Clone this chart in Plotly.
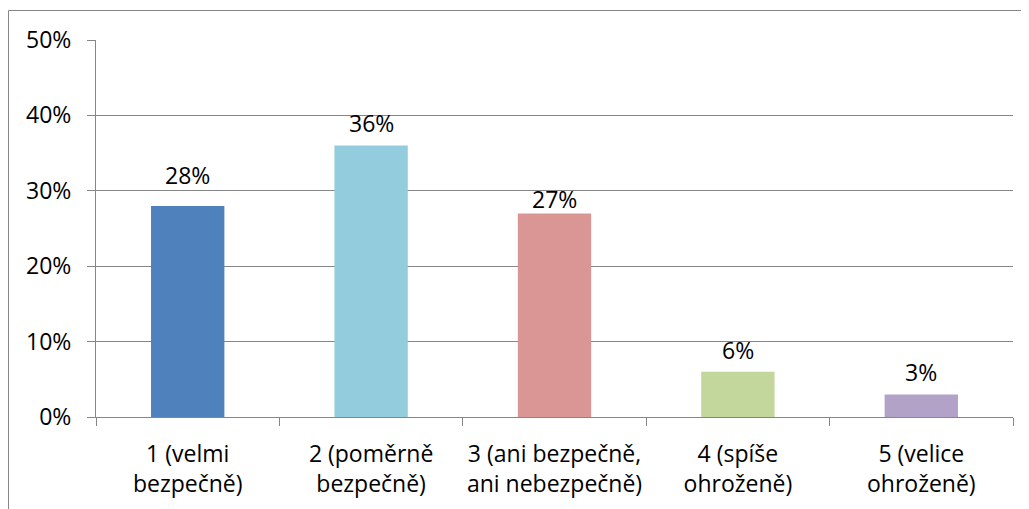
import plotly.graph_objects as go

categories = ["1 (velmi<br>bezpečně)", "2 (poměrně<br>bezpečně)", "3 (ani bezpečně,<br>ani nebezpečně)",
              "4 (spíše<br>ohroženě)", "5 (velice<br>ohroženě)"]
values = [0.28, 0.36, 0.27, 0.06, 0.03]
labels = ["28%", "36%", "27%", "6%", "3%"]
colors = ["#4F81BD", "#93CDDD", "#D99694", "#C3D69B", "#B3A2C7"]
y_ticks = [0, 0.1, 0.2, 0.3, 0.4, 0.5]
y_tick_text = ["0%", "10%", "20%", "30%", "40%", "50%"]

# styling: per-label vertical offsets (px) as placed in the original
label_shift = [12.5, 4.5, -4, 4, 4]

FONT = "Open Sans, Calibri, sans-serif"
FS = 23
GRID = "#868686"

fig = go.Figure(go.Bar(
    x=categories, y=values, marker_color=colors, marker_line_width=0,
))

# page body has an 8px margin, so figure coords = screen coords - 8
OFF = 8
W, H = 1021, 501
L, T = 96 - OFF, 40 - OFF
R = W - (1013 - OFF)
B = H - (417 - OFF)
pw, ph = W - L - R, H - T - B

annotations = [
    dict(x=c, y=v, xref="x", yref="y", text=t, showarrow=False,
         yanchor="bottom", yshift=s, font=dict(family=FONT, size=FS, color="#000000"))
    for c, v, t, s in zip(categories, values, labels, label_shift)
]

fig.update_layout(
    width=W, height=H,
    margin=dict(l=L, r=R, t=T, b=B, autoexpand=False),
    paper_bgcolor="white", plot_bgcolor="white",
    bargap=0.6, showlegend=False,
    font=dict(family=FONT, size=FS, color="#000000"),
    annotations=annotations,
    xaxis=dict(
        type="category", showline=True, linecolor=GRID, linewidth=1,
        ticks="outside", tickson="boundaries", ticklen=8, tickcolor=GRID,
        showgrid=False, tickfont=dict(family=FONT, size=FS),
        ticklabelstandoff=16, tickangle=0, automargin=False,
    ),
    yaxis=dict(
        range=[0, 0.5], tickvals=y_ticks, ticktext=y_tick_text,
        showline=True, linecolor=GRID, linewidth=1,
        ticks="outside", ticklen=8, tickcolor=GRID,
        showgrid=True, gridcolor=GRID, gridwidth=1, zeroline=False,
        tickfont=dict(family=FONT, size=FS), ticklabelstandoff=11, automargin=False,
    ),
    shapes=[dict(
        type="rect", xref="paper", yref="paper",
        x0=(0.5 - L) / pw, x1=(W + 20 - L) / pw,
        y0=-(H + 20 - T - ph) / ph, y1=1 + (T - 2.5) / ph,
        line=dict(color=GRID, width=1), fillcolor="rgba(0,0,0,0)", layer="above",
    )],
)

fig.write_html("out.html")
